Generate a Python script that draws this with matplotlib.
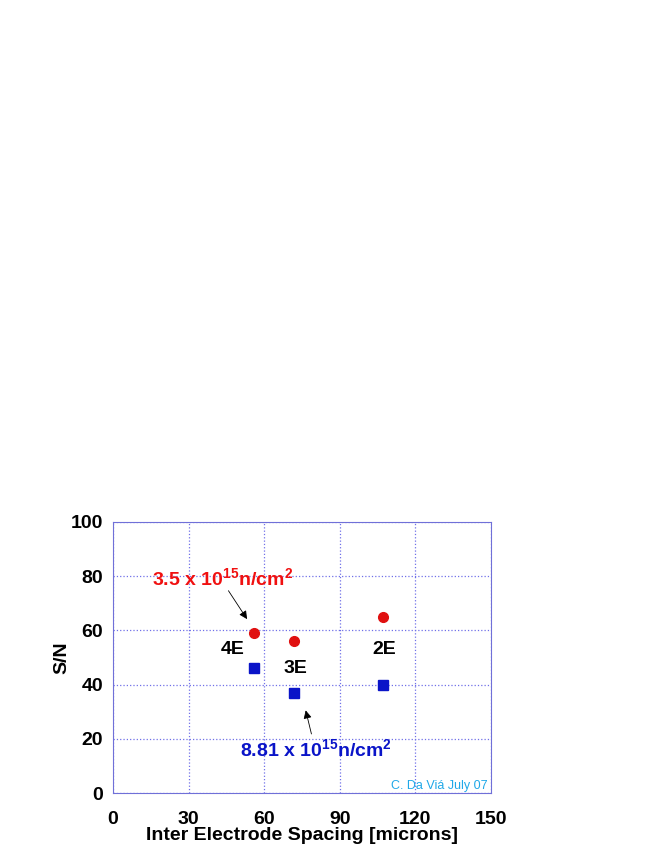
import matplotlib
matplotlib.use("Agg")
import matplotlib.pyplot as plt

plt.rcParams['font.family'] = ['Liberation Sans', 'DejaVu Sans']
plt.rcParams['mathtext.fontset'] = 'custom'
plt.rcParams['mathtext.rm'] = 'Liberation Sans'
plt.rcParams['mathtext.bf'] = 'Liberation Sans:bold'

spacing = [56, 72, 107]
sn_low = [59, 56, 65]      # 3.5e15 n/cm2
sn_high = [46, 37, 40]     # 8.81e15 n/cm2
labels = ['4E', '3E', '2E']
label_pos = [(47.5, 53), (72.5, 46), (107.5, 53)]
x_ticks = [0, 30, 60, 90, 120, 150]
y_ticks = [0, 20, 40, 60, 80, 100]

fig = plt.figure(figsize=(6.54, 8.46), dpi=100)
ax = fig.add_axes([0.1728, 0.0626, 0.578, 0.3204])

ax.plot(spacing, sn_low, 'o', color='#e01010', markersize=7, zorder=3)
ax.plot(spacing, sn_high, 's', color='#0a14c8', markersize=7, zorder=3)

for lab, (lx, ly) in zip(labels, label_pos):
    ax.text(lx, ly, lab, fontsize=14, fontweight='bold', ha='center', va='center')

ax.text(43.5, 79, r'3.5 x 10$^{\mathbf{15}}$n/cm$^{\mathbf{2}}$', color='#f01010',
        fontsize=14, fontweight='bold', ha='center', va='center')
ax.annotate('', xy=(53.8, 63.3), xytext=(45.2, 75.5),
            arrowprops=dict(arrowstyle='-|>', color='black', lw=0.6, mutation_scale=12))

ax.text(80.5, 16, r'8.81 x 10$^{\mathbf{15}}$n/cm$^{\mathbf{2}}$', color='#0a14c8',
        fontsize=14, fontweight='bold', ha='center', va='center')
ax.annotate('', xy=(76.2, 31.5), xytext=(79, 20.8),
            arrowprops=dict(arrowstyle='-|>', color='black', lw=0.6, mutation_scale=12))

ax.text(148.5, 0.2, u'C. Da Viá July 07', color='#20a8e8', fontsize=9,
        ha='right', va='bottom')

ax.set_xlim(0, 150)
ax.set_ylim(0, 100)
ax.set_xticks(x_ticks)
ax.set_yticks(y_ticks)
ax.tick_params(length=0, labelsize=14)
ax.tick_params(axis='x', pad=13)
ax.tick_params(axis='y', pad=7)
for t in ax.get_xticklabels() + ax.get_yticklabels():
    t.set_fontweight('bold')
ax.grid(True, linestyle=':', color='#7070e8', linewidth=0.9)
for s in ax.spines.values():
    s.set_color('#7070d8')
    s.set_linewidth(0.8)

ax.set_xlabel('Inter Electrode Spacing [microns]', fontsize=14, fontweight='bold', labelpad=-0.5)
ax.set_ylabel('S/N', fontsize=14, fontweight='bold')
ax.yaxis.set_label_coords(-0.112, 0.5)

fig.savefig('out.png', dpi=100)
